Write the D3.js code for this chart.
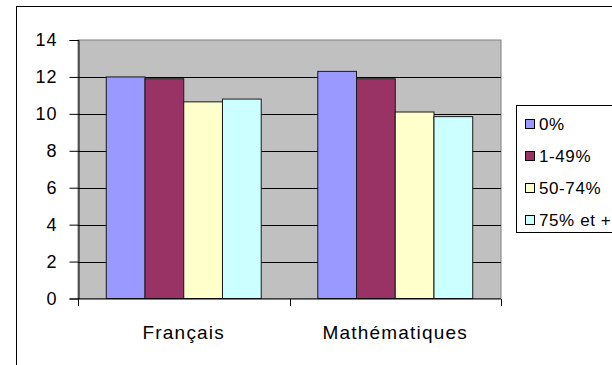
<!DOCTYPE html>
<html>
<head>
<meta charset="utf-8">
<script src="https://cdn.jsdelivr.net/npm/d3@7"></script>
<style>
  html, body { margin: 0; padding: 0; background: #fff; }
  svg { display: block; }
  text { font-family: Arial, "Liberation Sans", sans-serif; fill: #000; }
</style>
</head>
<body>
<svg id="chart" width="612" height="365"></svg>
<script>
// Average scores by subject and by share of the group
const categories = ["Français", "Mathématiques"];
const seriesNames = ["0%", "1-49%", "50-74%", "75% et +"];
const values0 = [12.0, 12.3];
const values1 = [11.9, 11.9];
const values2 = [10.65, 10.1];
const values3 = [10.8, 9.85];
const yTicks = [0, 2, 4, 6, 8, 10, 12, 14];
const colors = ["#9999FF", "#993366", "#FFFFCC", "#CCFFFF"];

const seriesValues = [values0, values1, values2, values3];

const svg = d3.select("#chart");

// outer chart frame (runs off the right and bottom edges)
svg.append("rect")
  .attr("x", 16.5).attr("y", 6.5)
  .attr("width", 640).attr("height", 400)
  .attr("fill", "#fff").attr("stroke", "#000").attr("stroke-width", 1);

const plot = { left: 78, top: 40, right: 501, bottom: 298.5 };

const x0 = d3.scaleBand().domain(categories)
  .range([plot.left, plot.right]).paddingInner(0).paddingOuter(0);
const x1 = d3.scaleBand().domain(seriesNames)
  .range([0, x0.bandwidth()]).paddingOuter(0.73).paddingInner(0);
const y = d3.scaleLinear().domain([0, 14]).range([plot.bottom, plot.top]);

// plot background
svg.append("rect")
  .attr("x", plot.left).attr("y", plot.top)
  .attr("width", plot.right - plot.left).attr("height", plot.bottom - plot.top)
  .attr("fill", "#C0C0C0").attr("stroke", "#808080").attr("stroke-width", 1);

// horizontal gridlines
svg.append("g").selectAll("line")
  .data(yTicks.filter(d => d > 0 && d < 14))
  .join("line")
  .attr("x1", plot.left).attr("x2", plot.right)
  .attr("y1", d => Math.round(y(d)) + 0.5).attr("y2", d => Math.round(y(d)) + 0.5)
  .attr("stroke", "#000").attr("stroke-width", 1);

// bars
const groups = svg.append("g").selectAll("g")
  .data(categories)
  .join("g")
  .attr("transform", c => `translate(${x0(c)},0)`);

groups.selectAll("rect")
  .data((c, ci) => seriesNames.map((s, si) => ({ s, si, v: seriesValues[si][ci] })))
  .join("rect")
  .attr("x", d => x1(d.s))
  .attr("y", d => y(d.v))
  .attr("width", x1.bandwidth())
  .attr("height", d => y(0) - y(d.v))
  .attr("fill", d => colors[d.si])
  .attr("stroke", "#1a1a1a").attr("stroke-width", 1);

// y axis
const yAxis = d3.axisLeft(y).tickValues(yTicks).tickSize(9).tickPadding(12);
const gy = svg.append("g")
  .attr("transform", `translate(${plot.left + 0.5},0)`)
  .call(yAxis);
gy.select(".domain").attr("stroke", "#000");
gy.selectAll(".tick line").attr("stroke", "#000");
gy.selectAll(".tick text")
  .style("font-family", "Arial, 'Liberation Sans', sans-serif")
  .style("font-size", "18px").style("letter-spacing", "1px")
  .attr("fill", "#222");

// x axis with ticks at category boundaries
const gx = svg.append("g").attr("transform", `translate(0,${plot.bottom + 0.5})`);
gx.append("line")
  .attr("x1", plot.left).attr("x2", plot.right)
  .attr("stroke", "#000");
const bounds = categories.map(c => x0(c)).concat([x0(categories[categories.length - 1]) + x0.bandwidth()]);
gx.selectAll("line.tk").data(bounds).join("line").attr("class", "tk")
  .attr("x1", d => Math.round(d) + 0.5).attr("x2", d => Math.round(d) + 0.5)
  .attr("y1", 0).attr("y2", 7).attr("stroke", "#000");
gx.selectAll("text").data(categories).join("text")
  .attr("x", c => x0(c) + x0.bandwidth() / 2)
  .attr("y", 40)
  .attr("text-anchor", "middle")
  .style("font-size", "19px").style("letter-spacing", "1.2px")
  .attr("fill", "#222")
  .text(c => c);

// legend
const legend = svg.append("g");
legend.append("rect")
  .attr("x", 516.5).attr("y", 105.5)
  .attr("width", 120).attr("height", 127)
  .attr("fill", "#fff").attr("stroke", "#000");
const items = legend.selectAll("g.item").data(seriesNames).join("g").attr("class", "item")
  .attr("transform", (d, i) => `translate(0,${124 + i * 32})`);
items.append("rect")
  .attr("x", 525.5).attr("y", -4.5).attr("width", 9).attr("height", 9)
  .attr("fill", (d, i) => colors[i]).attr("stroke", "#000");
items.append("text")
  .attr("x", 539).attr("y", 6)
  .style("font-size", "17px").style("letter-spacing", "0.6px")
  .attr("fill", "#222")
  .text(d => d);
</script>
</body>
</html>
